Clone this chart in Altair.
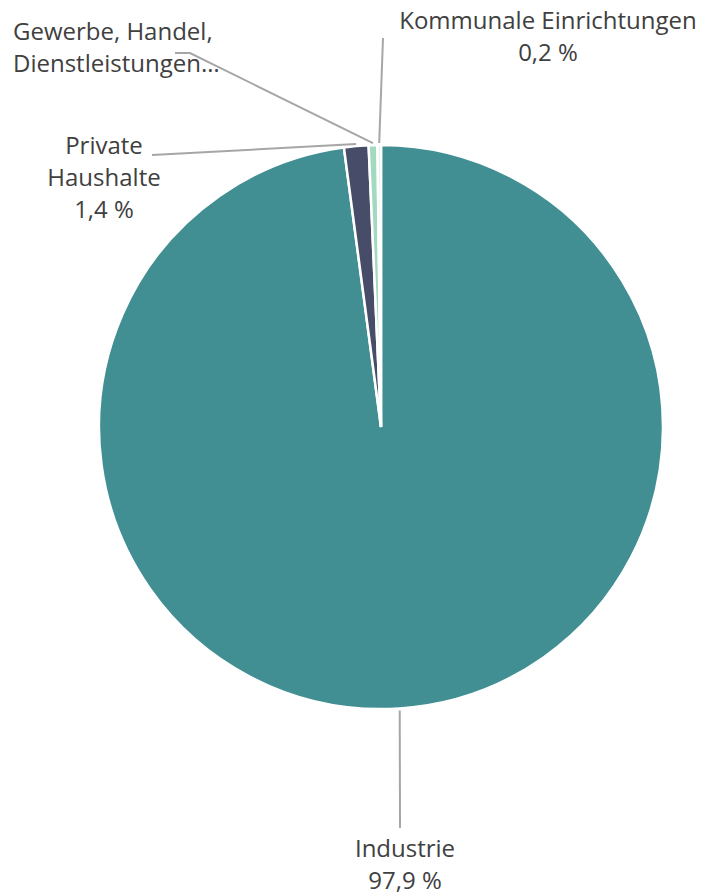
import math
import altair as alt
import pandas as pd

# ---- data ----
categories = ["Industrie", "Private Haushalte", "Gewerbe, Handel, Dienstleistungen", "Kommunale Einrichtungen"]
values = [97.9, 1.4, 0.5, 0.2]
label_texts = ["Industrie\n97,9 %", "Private\nHaushalte\n1,4 %", "Gewerbe, Handel,\nDienstleistungen…", "Kommunale Einrichtungen\n0,2 %"]

# ---- styles / layout ----
colors = ["#418F93", "#474D69", "#A3D9C0", "#DCEFE7"]
W, H = 710, 893
CX, CY, R = 381, 427, 282
label_pos = {  # anchor of each label block (x, first-line center y), alignment
    "Industrie": (405, 850, "center"),
    "Private Haushalte": (104, 147, "center"),
    "Gewerbe, Handel, Dienstleistungen": (13, 33, "left"),
    "Kommunale Einrichtungen": (548, 22, "center"),
}
# leader line waypoints from label side (pie end is computed from the data)
leader_start = {
    "Industrie": [(400, 828)],
    "Private Haushalte": [(152, 155)],
    "Gewerbe, Handel, Dienstleistungen": [(175, 53), (190, 53)],
    "Kommunale Einrichtungen": [(383, 38)],
}

df = pd.DataFrame({"category": categories, "value": values, "idx": list(range(len(categories))),
                   "label": label_texts})

total = sum(values)
rows_lines = []
rows_labels = []
cum = 0.0
for c, v, t in zip(categories, values, label_texts):
    mid = (cum + v / 2) / total * 2 * math.pi
    cum += v
    ex = CX + (R + 2) * math.sin(mid)
    ey = CY - (R + 2) * math.cos(mid)
    pts = leader_start[c] + [(ex, ey)]
    for k, (px, py) in enumerate(pts):
        rows_lines.append({"category": c, "k": k, "x": px, "y": py})
    lx, ly, al = label_pos[c]
    rows_labels.append({"category": c, "x": lx, "y": ly, "label": t, "align": al})

lines_df = pd.DataFrame(rows_lines)
labels_df = pd.DataFrame(rows_labels)

xs = alt.Scale(domain=[0, W], range=[0, W])
ys = alt.Scale(domain=[0, H], range=[0, H])

pie = alt.Chart(df).mark_arc(radius=R, stroke="white", strokeWidth=2.5).encode(
    theta=alt.Theta("value:Q", stack=True),
    color=alt.Color("category:N", scale=alt.Scale(domain=categories, range=colors), legend=None),
    order=alt.Order("idx:Q"),
    x=alt.value(CX),
    y=alt.value(CY),
)

lines = alt.Chart(lines_df).mark_line(color="#A6A6A6", strokeWidth=2).encode(
    x=alt.X("x:Q", scale=xs, axis=None),
    y=alt.Y("y:Q", scale=ys, axis=None),
    detail="category:N",
    order="k:Q",
)

def text_layer(align):
    return alt.Chart(labels_df[labels_df["align"] == align]).mark_text(
        align=align, baseline="middle", lineBreak="\n", lineHeight=32,
        font="Open Sans", fontSize=24, color="#404040",
    ).encode(
        x=alt.X("x:Q", scale=xs, axis=None),
        y=alt.Y("y:Q", scale=ys, axis=None),
        text="label:N",
    )

chart = alt.layer(pie, lines, text_layer("center"), text_layer("left")).properties(
    width=W, height=H, autosize=alt.AutoSizeParams(type="none"), padding=0,
).configure_view(stroke=None)

chart.save("out.html", embed_options={"renderer": "svg", "actions": False})
